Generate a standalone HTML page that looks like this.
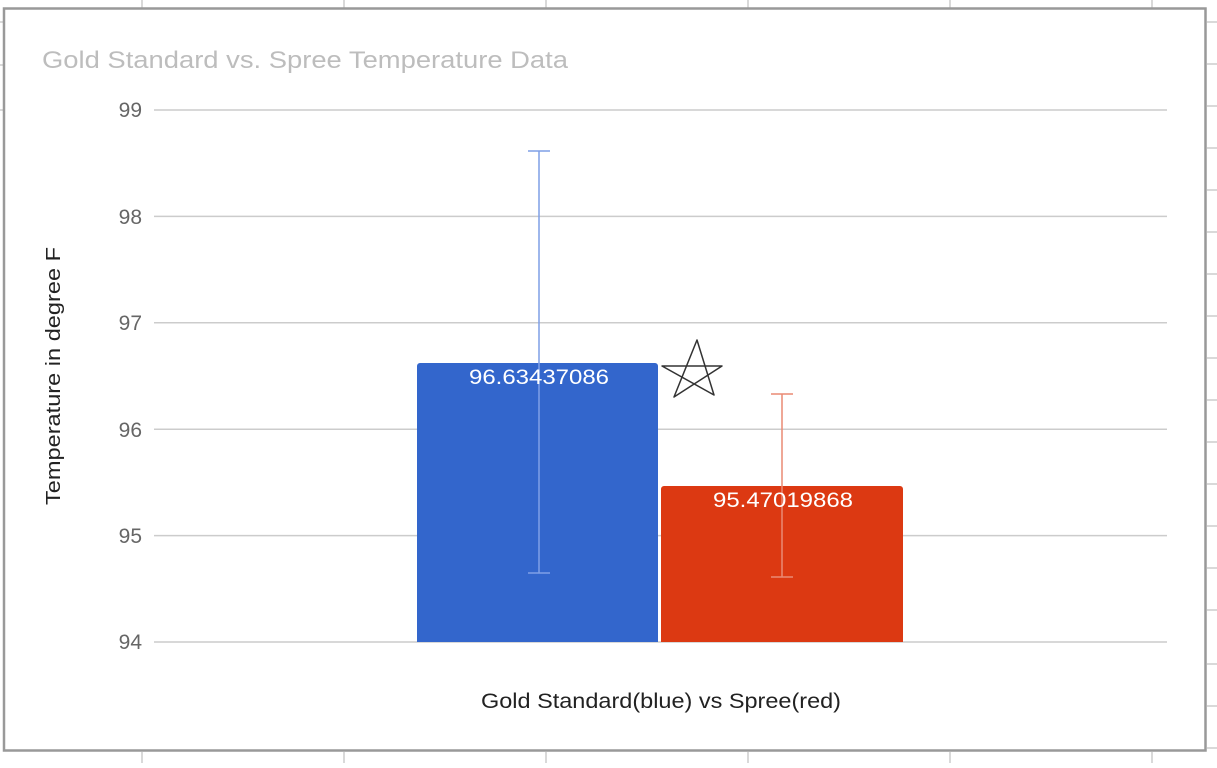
<!DOCTYPE html>
<html><head><style>
body{margin:0;width:1217px;height:763px;background:#fff;overflow:hidden;font-family:"Liberation Sans",Roboto,sans-serif}
</style></head><body>
<svg width="1217" height="763" xmlns="http://www.w3.org/2000/svg" font-family="Liberation Sans, sans-serif">
<g stroke="#d9d9d9" stroke-width="2">
<line x1="142" y1="0" x2="142" y2="8"/><line x1="344" y1="0" x2="344" y2="8"/><line x1="546" y1="0" x2="546" y2="8"/><line x1="748" y1="0" x2="748" y2="8"/><line x1="950" y1="0" x2="950" y2="8"/><line x1="1152" y1="0" x2="1152" y2="8"/>
<line x1="142" y1="752" x2="142" y2="763"/><line x1="344" y1="752" x2="344" y2="763"/><line x1="546" y1="752" x2="546" y2="763"/><line x1="748" y1="752" x2="748" y2="763"/><line x1="950" y1="752" x2="950" y2="763"/><line x1="1152" y1="752" x2="1152" y2="763"/>
<line x1="1207" y1="22" x2="1217" y2="22"/><line x1="1207" y1="64" x2="1217" y2="64"/><line x1="1207" y1="106" x2="1217" y2="106"/><line x1="1207" y1="148" x2="1217" y2="148"/><line x1="1207" y1="190" x2="1217" y2="190"/><line x1="1207" y1="232" x2="1217" y2="232"/><line x1="1207" y1="274" x2="1217" y2="274"/><line x1="1207" y1="316" x2="1217" y2="316"/><line x1="1207" y1="358" x2="1217" y2="358"/><line x1="1207" y1="400" x2="1217" y2="400"/><line x1="1207" y1="442" x2="1217" y2="442"/><line x1="1207" y1="484" x2="1217" y2="484"/><line x1="1207" y1="526" x2="1217" y2="526"/><line x1="1207" y1="568" x2="1217" y2="568"/><line x1="1207" y1="610" x2="1217" y2="610"/><line x1="1207" y1="664" x2="1217" y2="664"/><line x1="1207" y1="706" x2="1217" y2="706"/><line x1="1207" y1="748" x2="1217" y2="748"/>
<line x1="0" y1="22" x2="3" y2="22"/><line x1="0" y1="65" x2="3" y2="65"/><line x1="0" y1="110" x2="3" y2="110"/>
</g>
<rect x="4" y="8.5" width="1201.5" height="742" fill="#fff" stroke="#999" stroke-width="2.5"/>
<text x="42" y="68" font-size="24" fill="#bdbdbd" textLength="526" lengthAdjust="spacingAndGlyphs">Gold Standard vs. Spree Temperature Data</text>
<g stroke="#cccccc" stroke-width="1.5">
<line x1="154" y1="110" x2="1167" y2="110"/><line x1="154" y1="216.4" x2="1167" y2="216.4"/><line x1="154" y1="322.8" x2="1167" y2="322.8"/><line x1="154" y1="429.2" x2="1167" y2="429.2"/><line x1="154" y1="535.6" x2="1167" y2="535.6"/><line x1="154" y1="642" x2="1167" y2="642"/>
</g>
<g font-size="21" fill="#666" text-anchor="end">
<text x="142" y="117">99</text><text x="142" y="224">98</text><text x="142" y="330">97</text><text x="142" y="437">96</text><text x="142" y="543">95</text><text x="142" y="649">94</text>
</g>
<text transform="translate(60,376) rotate(-90)" font-size="20" fill="#222" text-anchor="middle" textLength="258" lengthAdjust="spacingAndGlyphs">Temperature in degree F</text>
<text x="661" y="708" font-size="21" fill="#222" text-anchor="middle" textLength="360" lengthAdjust="spacingAndGlyphs">Gold Standard(blue) vs Spree(red)</text>
<path d="M417,642 V366 a3,3 0 0 1 3,-3 H655 a3,3 0 0 1 3,3 V642Z" fill="#3366cc"/>
<path d="M661,642 V489 a3,3 0 0 1 3,-3 H900 a3,3 0 0 1 3,3 V642Z" fill="#dc3912"/>
<g stroke="#7f9fe6" stroke-width="1.5"><line x1="539" y1="151" x2="539" y2="573"/><line x1="528" y1="151" x2="550" y2="151"/><line x1="528" y1="573" x2="550" y2="573"/></g>
<g stroke="#ea8a74" stroke-width="1.5"><line x1="782" y1="394" x2="782" y2="577"/><line x1="771" y1="394" x2="793" y2="394"/><line x1="771" y1="577" x2="793" y2="577"/></g>
<text x="539" y="384" font-size="21" fill="#fff" text-anchor="middle" textLength="140" lengthAdjust="spacingAndGlyphs">96.63437086</text>
<text x="783" y="507" font-size="21" fill="#fff" text-anchor="middle" textLength="140" lengthAdjust="spacingAndGlyphs">95.47019868</text>
<path d="M697,340 L674,397 L722,366 L662,366 L714,395 Z" fill="none" stroke="#333" stroke-width="1.5" stroke-linejoin="round"/>
</svg>
</body></html>
